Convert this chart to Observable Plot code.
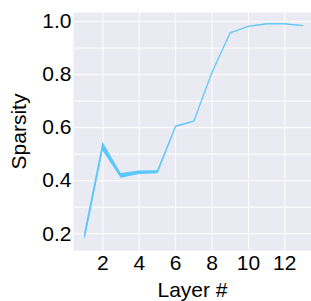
<!DOCTYPE html>
<html>
<head>
<meta charset="utf-8">
<script src="https://cdn.jsdelivr.net/npm/d3@7"></script>
<script src="https://cdn.jsdelivr.net/npm/@observablehq/plot@0.6"></script>
<style>
  html, body { margin: 0; padding: 0; background: #fff; }
  #chart { width: 311px; height: 301px; overflow: hidden; }
</style>
</head>
<body>
<div id="chart"></div>
<script>
const layers = [1, 2, 3, 4, 5, 6, 7, 8, 9, 10, 11, 12, 13];
const sparsity = [0.19, 0.53, 0.418, 0.43, 0.432, 0.604, 0.624, 0.809, 0.957, 0.981, 0.991, 0.991, 0.984];
const lower = [0.176, 0.512, 0.409, 0.423, 0.426, 0.602, 0.623, 0.808, 0.956, 0.980, 0.990, 0.990, 0.983];
const upper = [0.204, 0.545, 0.427, 0.437, 0.438, 0.606, 0.625, 0.810, 0.958, 0.982, 0.992, 0.992, 0.985];
const xTicks = [2, 4, 6, 8, 10, 12];
const yTicks = [0.2, 0.4, 0.6, 0.8, 1.0];
const yGrid = [0.2, 0.3, 0.4, 0.5, 0.6, 0.7, 0.8, 0.9, 1.0];

const data = layers.map((l, i) => ({layer: l, v: sparsity[i], lo: lower[i], hi: upper[i]}));
const color = "#5ac8fa";

const chart = Plot.plot({
  width: 311,
  height: 301,
  marginLeft: 73,
  marginRight: 0,
  marginTop: 12,
  marginBottom: 51,
  style: {fontFamily: "'Liberation Sans', Arial, sans-serif", fontSize: "21px", background: "#fff", color: "#000"},
  x: {domain: [0.38, 13.47]},
  y: {domain: [0.137, 1.034]},
  marks: [
    Plot.frame({fill: "#eaeaf2", stroke: null}),
    Plot.ruleY(yGrid, {stroke: "#fff", strokeWidth: 1}),
    Plot.ruleX(xTicks, {stroke: "#fff", strokeWidth: 1}),
    Plot.areaY(data, {x: "layer", y1: "lo", y2: "hi", fill: color, fillOpacity: 1}),
    Plot.line(data, {x: "layer", y: "v", stroke: color, strokeWidth: 1.1}),
    Plot.axisX({ticks: xTicks, tickSize: 0, tickPadding: 5, tickFormat: d => String(d), label: "Layer #", labelAnchor: "center", labelArrow: "none", labelOffset: 46, fontSize: 21}),
    Plot.axisY({ticks: yTicks, tickSize: 0, tickPadding: 2, tickFormat: d => d.toFixed(1), label: "Sparsity", labelAnchor: "center", labelArrow: "none", labelOffset: 62, fontSize: 21})
  ]
});
document.getElementById("chart").appendChild(chart);
</script>
</body>
</html>
